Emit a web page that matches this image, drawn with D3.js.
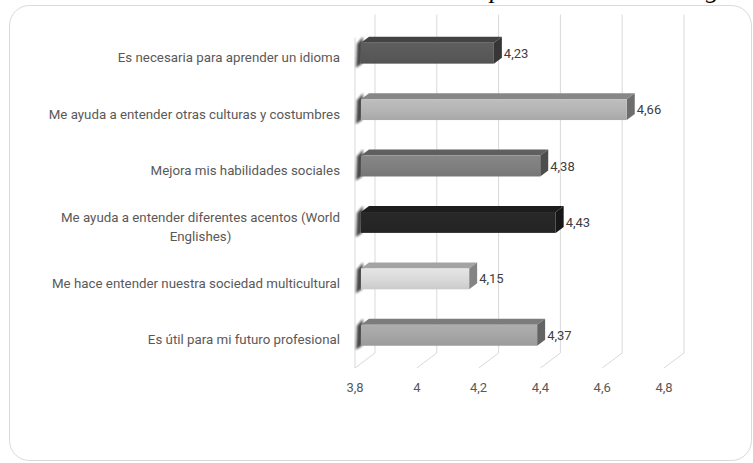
<!DOCTYPE html>
<html>
<head>
<meta charset="utf-8">
<script src="https://cdn.jsdelivr.net/npm/d3@7"></script>
<style>
  html, body { margin: 0; padding: 0; background: #ffffff; }
  svg { display: block; }
</style>
</head>
<body>
<svg id="chart" width="753" height="463"></svg>
<script>
// Survey statements (top to bottom) and their mean scores
const categories = [
  "Es necesaria para aprender un idioma",
  "Me ayuda a entender otras culturas y costumbres",
  "Mejora mis habilidades sociales",
  "Me ayuda a entender diferentes acentos (World Englishes)",
  "Me hace entender nuestra sociedad multicultural",
  "Es útil para mi futuro profesional"
];
const values = [4.23, 4.66, 4.38, 4.43, 4.15, 4.37];
const barColors = ["#595959", "#b4b4b4", "#7f7f7f", "#262626", "#d9d9d9", "#a5a5a5"];
const tickValues = [3.8, 4.0, 4.2, 4.4, 4.6, 4.8];
const tickLabels = ["3,8", "4", "4,2", "4,4", "4,6", "4,8"];

const svg = d3.select("#chart");

// Outer frame
svg.append("rect")
  .attr("x", 9.5).attr("y", 5.5)
  .attr("width", 742).attr("height", 455)
  .attr("rx", 20).attr("ry", 20)
  .attr("fill", "#ffffff")
  .attr("stroke", "#d9d9d9").attr("stroke-width", 1);

// Descenders of the line of text running above the frame
svg.append("text").attr("x", 490).attr("y", -2)
  .attr("font-family", "Liberation Serif").attr("font-style", "italic")
  .attr("font-size", 26).attr("fill", "#000").text("p");
svg.append("text").attr("x", 706).attr("y", -2)
  .attr("font-family", "Liberation Serif").attr("font-style", "italic")
  .attr("font-size", 26).attr("fill", "#000").text("g");

// Front-plane scales; depth is projected as an oblique offset
const x = d3.scaleLinear().domain([3.8, 4.8]).range([355, 664]);
const y = d3.scaleBand().domain(categories).range([29.5, 368])
  .paddingInner(0.63).paddingOuter(0.315);
const DX = 20, DY = -15;                 // full depth offset
const P = (px, py, t) => [px + DX * t, py + DY * t];
const yTop = 29.5, yBottom = 368;
const t0 = 0.3, t1 = 0.7;                // bar depth span

const grid = svg.append("g").attr("stroke", "#d9d9d9").attr("stroke-width", 1).attr("fill", "none");

// Back-wall verticals and floor diagonals for each tick
tickValues.forEach(v => {
  const fx = x(v);
  const b0 = P(fx, yTop, 1), b1 = P(fx, yBottom, 1);
  grid.append("path").attr("d", d3.line()([b0, b1, [fx, yBottom]]));
});
// Side wall front edge
grid.append("line")
  .attr("x1", x(3.8)).attr("x2", x(3.8))
  .attr("y1", yTop + 8).attr("y2", yBottom);

// Tick labels
svg.append("g").selectAll("text").data(tickValues).join("text")
  .attr("x", d => x(d)).attr("y", 392)
  .attr("text-anchor", "middle")
  .attr("font-family", "Roboto, sans-serif").attr("font-size", 13)
  .attr("fill", "#595959")
  .text((d, i) => tickLabels[i]);

// Gradients and shadow filter
const defs = svg.append("defs");
defs.append("filter").attr("id", "soft")
  .attr("x", "-50%").attr("y", "-50%").attr("width", "200%").attr("height", "200%")
  .append("feGaussianBlur").attr("stdDeviation", 1.3);

barColors.forEach((c, i) => {
  const g = defs.append("linearGradient").attr("id", "front" + i)
    .attr("x1", 0).attr("y1", 0).attr("x2", 0).attr("y2", 1);
  const base = d3.color(c);
  g.append("stop").attr("offset", "0%").attr("stop-color", base.brighter(0.15));
  g.append("stop").attr("offset", "55%").attr("stop-color", base);
  g.append("stop").attr("offset", "100%").attr("stop-color", base.darker(0.2));
});

const bars = svg.append("g");
const poly = pts => "M" + pts.map(p => p.join(",")).join("L") + "Z";

categories.forEach((cat, i) => {
  const v = values[i];
  const top = y(cat), bot = y(cat) + y.bandwidth();
  const xl = x(3.8), xr = x(v);
  const c = d3.color(barColors[i]);

  const fTL = P(xl, top, t0), fTR = P(xr, top, t0);
  const fBL = P(xl, bot, t0), fBR = P(xr, bot, t0);
  const bTL = P(xl, top, t1), bTR = P(xr, top, t1);
  const bBR = P(xr, bot, t1);

  // soft shadow on the side wall
  bars.append("path")
    .attr("d", poly([[fTL[0] + 2, fTL[1] - 6], [fTL[0] - 4, fTL[1] + 1], [fBL[0] - 5, fBL[1] + 4], [fBL[0] + 1, fBL[1]]]))
    .attr("fill", "#111").attr("opacity", 0.75).attr("filter", "url(#soft)");

  // top face
  bars.append("path").attr("d", poly([fTL, fTR, bTR, bTL]))
    .attr("fill", c.darker(0.8));
  // right end face
  bars.append("path").attr("d", poly([fTR, bTR, bBR, fBR]))
    .attr("fill", c.darker(1.4));
  // front face
  bars.append("rect")
    .attr("x", fTL[0]).attr("y", fTL[1])
    .attr("width", fTR[0] - fTL[0]).attr("height", fBL[1] - fTL[1])
    .attr("fill", `url(#front${i})`);

  // value label
  bars.append("text")
    .attr("x", bTR[0] + 2).attr("y", (fTR[1] + fBR[1]) / 2 + 4.5)
    .attr("font-family", "Roboto, sans-serif").attr("font-size", 13)
    .attr("fill", "#404040")
    .text(v.toFixed(2).replace(".", ","));
});

// Category labels: wrapped, lines centred on each other, block right-aligned
const labelRight = 340, maxWidth = 318, lineH = 19;
const labels = svg.append("g")
  .attr("font-family", "Roboto, sans-serif").attr("font-size", 13.3)
  .attr("fill", "#595959");

categories.forEach(cat => {
  const cy = y(cat) + y.bandwidth() / 2;
  const probe = labels.append("text");
  const words = cat.split(" ");
  const lines = [];
  let cur = [];
  words.forEach(w => {
    cur.push(w);
    probe.text(cur.join(" "));
    if (probe.node().getComputedTextLength() > maxWidth && cur.length > 1) {
      cur.pop();
      lines.push(cur.join(" "));
      cur = [w];
    }
  });
  lines.push(cur.join(" "));
  const widths = lines.map(l => { probe.text(l); return probe.node().getComputedTextLength(); });
  probe.remove();
  const blockW = d3.max(widths);
  const cx = labelRight - blockW / 2;
  lines.forEach((l, k) => {
    labels.append("text")
      .attr("x", cx)
      .attr("y", cy + (k - (lines.length - 1) / 2) * lineH + 4.5)
      .attr("text-anchor", "middle")
      .text(l);
  });
});
</script>
</body>
</html>
